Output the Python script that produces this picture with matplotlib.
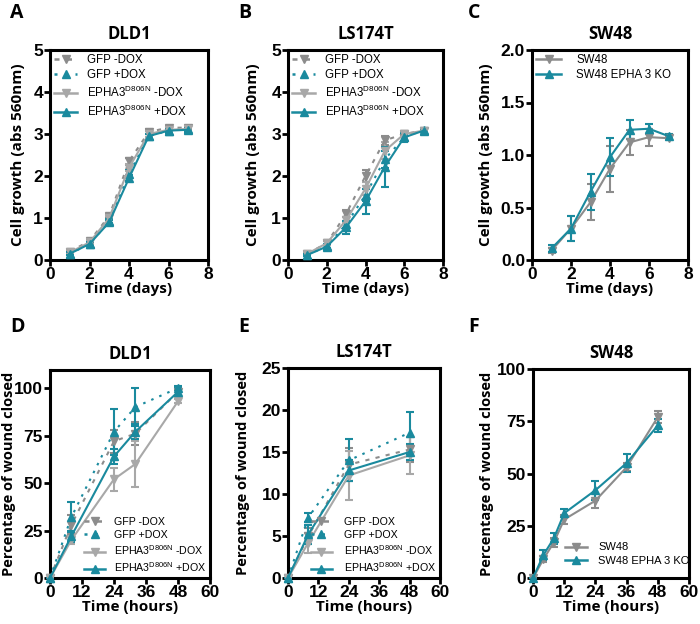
import matplotlib
matplotlib.use("Agg")
import matplotlib.pyplot as plt
from matplotlib.lines import Line2D

# ---------------- data ----------------
days = [1, 2, 3, 4, 5, 6, 7]

# Panel A: DLD1 growth
a_gfp_minus = [0.20, 0.45, 1.05, 2.35, 3.05, 3.15, 3.15]
a_gfp_minus_err = [0.03, 0.04, 0.05, 0.08, 0.06, 0.05, 0.05]
a_gfp_plus = [0.15, 0.38, 0.92, 2.05, 2.95, 3.08, 3.12]
a_gfp_plus_err = [0.03, 0.04, 0.05, 0.10, 0.06, 0.05, 0.05]
a_epha_minus = [0.18, 0.42, 1.00, 2.20, 3.00, 3.10, 3.12]
a_epha_minus_err = [0.03, 0.04, 0.05, 0.08, 0.06, 0.05, 0.05]
a_epha_plus = [0.15, 0.38, 0.90, 1.95, 2.95, 3.08, 3.10]
a_epha_plus_err = [0.03, 0.04, 0.05, 0.08, 0.06, 0.05, 0.05]

# Panel B: LS174T growth
b_gfp_minus = [0.15, 0.40, 1.10, 2.00, 2.85, 3.00, 3.08]
b_gfp_minus_err = [0.03, 0.05, 0.08, 0.15, 0.10, 0.06, 0.04]
b_gfp_plus = [0.12, 0.33, 0.85, 1.55, 2.40, 2.92, 3.10]
b_gfp_plus_err = [0.03, 0.05, 0.08, 0.15, 0.20, 0.08, 0.04]
b_epha_minus = [0.15, 0.40, 0.95, 1.70, 2.60, 3.00, 3.08]
b_epha_minus_err = [0.03, 0.05, 0.08, 0.15, 0.20, 0.06, 0.04]
b_epha_plus = [0.12, 0.32, 0.78, 1.40, 2.22, 2.92, 3.08]
b_epha_plus_err = [0.03, 0.05, 0.15, 0.30, 0.48, 0.12, 0.04]

# Panel C: SW48 growth
c_sw48 = [0.09, 0.30, 0.55, 0.87, 1.12, 1.17, 1.16]
c_sw48_err = [0.02, 0.12, 0.17, 0.22, 0.12, 0.08, 0.02]
c_ko = [0.11, 0.30, 0.65, 0.98, 1.24, 1.25, 1.18]
c_ko_err = [0.03, 0.12, 0.17, 0.18, 0.09, 0.05, 0.02]

# Panel D: DLD1 wound
d_hours = [0, 8, 24, 32, 48]
d_gfp_minus = [0, 28, 72, 76, 98]
d_gfp_minus_err = [0, 5, 6, 6, 2]
d_gfp_plus = [0, 32, 77, 90, 100]
d_gfp_plus_err = [0, 8, 12, 10, 1]
d_epha_minus = [0, 20, 52, 60, 93]
d_epha_minus_err = [0, 2, 6, 12, 1]
d_epha_plus = [0, 22, 64, 77, 98]
d_epha_plus_err = [0, 3, 4, 4, 2]

# Panel E: LS174T wound
e_hours = [0, 8, 24, 48]
e_gfp_minus = [0, 5.0, 13.5, 15.3]
e_gfp_minus_err = [0, 1.0, 2.0, 1.5]
e_gfp_plus = [0, 7.2, 14.0, 17.3]
e_gfp_plus_err = [0, 0.5, 2.5, 2.5]
e_epha_minus = [0, 4.2, 12.2, 14.6]
e_epha_minus_err = [0, 1.2, 2.9, 2.2]
e_epha_plus = [0, 5.2, 12.8, 15.0]
e_epha_plus_err = [0, 1.1, 1.3, 0.9]

# Panel F: SW48 wound
f_hours = [0, 4, 8, 12, 24, 36, 48]
f_sw48 = [0, 9, 17, 28, 37, 53, 77]
f_sw48_err = [0, 1.5, 2, 2, 3.5, 2, 3]
f_ko = [0, 11, 19, 31, 42, 55, 73]
f_ko_err = [0, 2.5, 2.5, 2, 4.5, 4.5, 3]

four_labels = ["GFP -DOX", "GFP +DOX",
               r"EPHA3$^{\mathregular{D806N}}$ -DOX",
               r"EPHA3$^{\mathregular{D806N}}$ +DOX"]
two_labels = ["SW48", "SW48 EPHA 3 KO"]

# ---------------- style ----------------
GRAY_D = "#8c8c8c"
GRAY_L = "#a8a8a8"
TEAL = "#1a8a9e"
TICKFONT = "Liberation Sans"
LABFONT = "Open Sans"

FOUR_SPECS = [
    dict(color=GRAY_D, ls=(0, (2, 3)), marker="v"),
    dict(color=TEAL, ls=(0, (1.2, 3)), marker="^"),
    dict(color=GRAY_L, ls="-", marker="v"),
    dict(color=TEAL, ls="-", marker="^"),
]
TWO_SPECS = [dict(color=GRAY_D, ls="-", marker="v"), dict(color=TEAL, ls="-", marker="^")]

fig = plt.figure(figsize=(7.0, 6.24), dpi=100)
W, H = 700, 624


def make_ax(l, r, t, b):
    return fig.add_axes([l / W, 1 - b / H, (r - l) / W, (b - t) / H])


def style(ax, xlim, xticks, ylim, yticks, ytl, xlabel, ylabel, title, ylab_x, ylab_fs=11):
    ax.set_xlim(*xlim)
    ax.set_ylim(*ylim)
    ax.set_xticks(xticks)
    ax.set_yticks(yticks)
    ax.set_yticklabels(ytl)
    for s in ax.spines.values():
        s.set_linewidth(2.2)
    ax.tick_params(width=2, length=4, labelsize=12.5, pad=1)
    for lab in ax.get_xticklabels() + ax.get_yticklabels():
        lab.set_fontweight("bold")
        lab.set_family(TICKFONT)
    ax.set_xlabel(xlabel, fontsize=11, fontweight="bold", family=LABFONT, labelpad=0)
    ax.set_ylabel(ylabel, fontsize=ylab_fs, fontweight="bold", family=LABFONT)
    ax.yaxis.set_label_coords(ylab_x, 0.5)
    ax.set_title(title, fontsize=12, fontweight="bold", family=LABFONT, pad=8)


def plot_series(ax, x, series, errs, specs):
    for y, e, sp in zip(series, errs, specs):
        ax.errorbar(x, y, yerr=e, color=sp["color"], ls=sp["ls"], marker=sp["marker"],
                    ms=5.5, mec=sp["color"], lw=1.5, capsize=3, elinewidth=1.5,
                    capthick=1.5, clip_on=False, zorder=3)


def legend(ax, specs, labels, hl=2.0, htp=0.9, fs=8.3, **kw):
    handles = [Line2D([], [], color=sp["color"], ls=sp["ls"], marker=sp["marker"],
                      ms=5.5, lw=1.8) for sp in specs]
    return ax.legend(handles, labels, frameon=False,
                     prop={"family": "Liberation Sans", "size": fs},
                     handlelength=hl, handletextpad=htp, labelspacing=0.3,
                     borderaxespad=0.15, borderpad=0.2, **kw)


# Panel A
axA = make_ax(50, 208, 50, 260)
plot_series(axA, days, [a_gfp_minus, a_gfp_plus, a_epha_minus, a_epha_plus],
            [a_gfp_minus_err, a_gfp_plus_err, a_epha_minus_err, a_epha_plus_err], FOUR_SPECS)
style(axA, (0, 8), [0, 2, 4, 6, 8], (0, 5), [0, 1, 2, 3, 4, 5], ["0", "1", "2", "3", "4", "5"],
      "Time (days)", "Cell growth (abs 560nm)", "DLD1", -0.16)
legend(axA, FOUR_SPECS, four_labels, loc="upper left")

# Panel B
axB = make_ax(288, 443, 50, 260)
plot_series(axB, days, [b_gfp_minus, b_gfp_plus, b_epha_minus, b_epha_plus],
            [b_gfp_minus_err, b_gfp_plus_err, b_epha_minus_err, b_epha_plus_err], FOUR_SPECS)
style(axB, (0, 8), [0, 2, 4, 6, 8], (0, 5), [0, 1, 2, 3, 4, 5], ["0", "1", "2", "3", "4", "5"],
      "Time (days)", "Cell growth (abs 560nm)", "LS174T", -0.18)
legend(axB, FOUR_SPECS, four_labels, loc="upper left")

# Panel C
axC = make_ax(532, 688, 50, 260)
plot_series(axC, days, [c_sw48, c_ko], [c_sw48_err, c_ko_err], TWO_SPECS)
style(axC, (0, 8), [0, 2, 4, 6, 8], (0, 2), [0, 0.5, 1.0, 1.5, 2.0],
      ["0.0", "0.5", "1.0", "1.5", "2.0"],
      "Time (days)", "Cell growth (abs 560nm)", "SW48", -0.25)
legend(axC, TWO_SPECS, two_labels, hl=2.2, htp=1.3, loc="upper left")

# Panel D
axD = make_ax(50, 210, 370, 578)
plot_series(axD, d_hours, [d_gfp_minus, d_gfp_plus, d_epha_minus, d_epha_plus],
            [d_gfp_minus_err, d_gfp_plus_err, d_epha_minus_err, d_epha_plus_err], FOUR_SPECS)
style(axD, (0, 60), [0, 12, 24, 36, 48, 60], (0, 109.5), [0, 25, 50, 75, 100],
      ["0", "25", "50", "75", "100"],
      "Time (hours)", "Percentage of wound closed", "DLD1", -0.215, ylab_fs=10.5)
legend(axD, FOUR_SPECS, four_labels, htp=0.8, fs=7.7, loc="lower right")

# Panel E
axE = make_ax(288, 440, 368, 578)
plot_series(axE, e_hours, [e_gfp_minus, e_gfp_plus, e_epha_minus, e_epha_plus],
            [e_gfp_minus_err, e_gfp_plus_err, e_epha_minus_err, e_epha_plus_err], FOUR_SPECS)
style(axE, (0, 60), [0, 12, 24, 36, 48, 60], (0, 25), [0, 5, 10, 15, 20, 25],
      ["0", "5", "10", "15", "20", "25"],
      "Time (hours)", "Percentage of wound closed", "LS174T", -0.25, ylab_fs=10.5)
legend(axE, FOUR_SPECS, four_labels, htp=1.1, fs=7.7, loc="lower right")

# Panel F
axF = make_ax(533, 689, 369, 578)
plot_series(axF, f_hours, [f_sw48, f_ko], [f_sw48_err, f_ko_err], TWO_SPECS)
style(axF, (0, 60), [0, 12, 24, 36, 48, 60], (0, 100), [0, 25, 50, 75, 100],
      ["0", "25", "50", "75", "100"],
      "Time (hours)", "Percentage of wound closed", "SW48", -0.25, ylab_fs=10.5)
legend(axF, TWO_SPECS, two_labels, hl=2.0, htp=1.0, fs=8.0, loc="lower left",
       bbox_to_anchor=(0.18, 0.04))

# panel letters
for letter, x, y in [("A", 10, 13), ("B", 238, 13), ("C", 468, 13),
                     ("D", 10, 327), ("E", 238, 327), ("F", 468, 327)]:
    fig.text(x / W, 1 - y / H, letter, fontsize=14, fontweight="bold",
             family=LABFONT, va="center", ha="left")

fig.savefig("out.png", dpi=100)
